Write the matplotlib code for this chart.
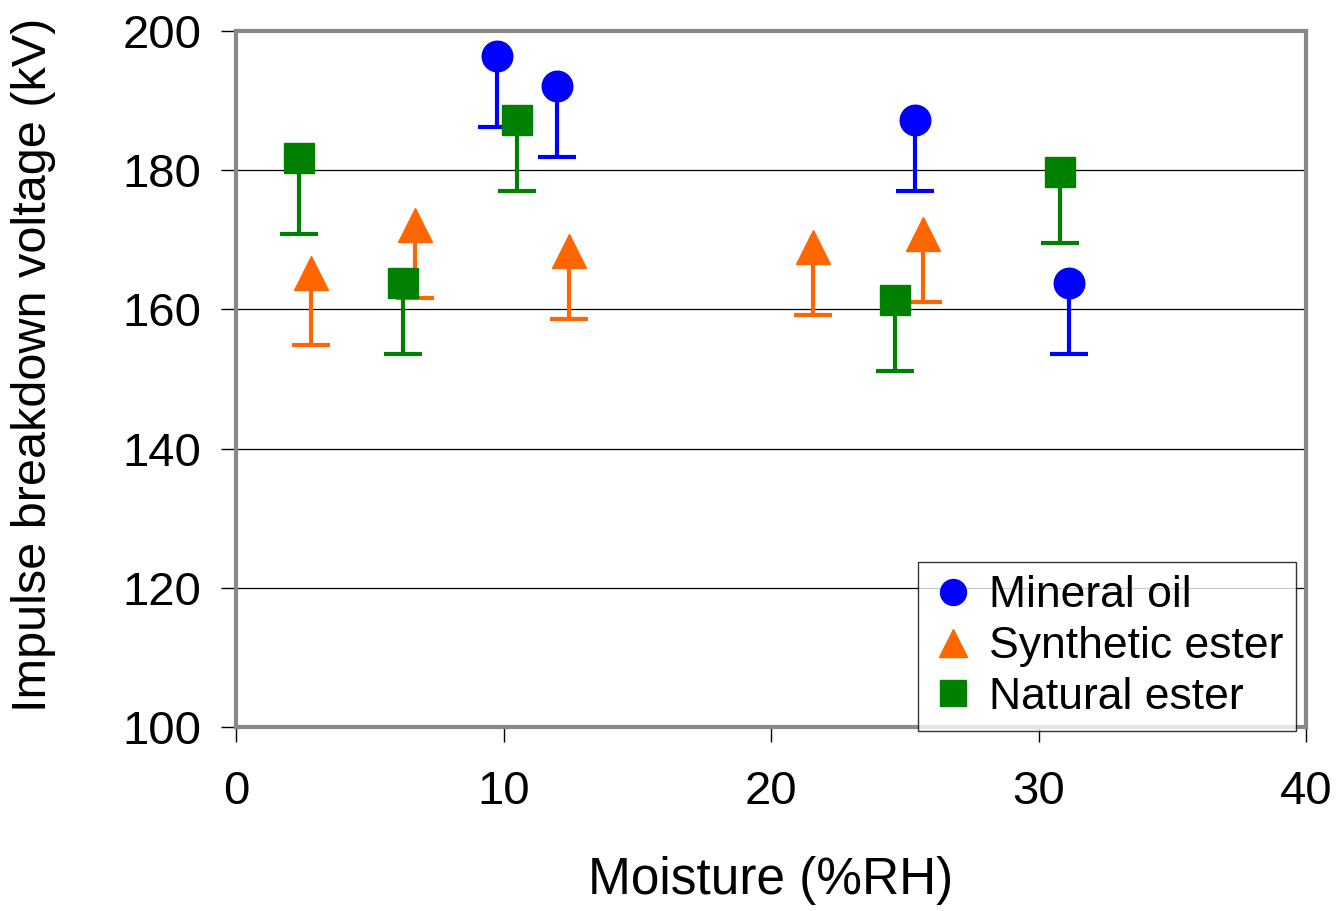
import matplotlib
matplotlib.use("Agg")
import matplotlib.pyplot as plt
import numpy as np

plt.rcParams['font.family'] = ['Liberation Sans', 'DejaVu Sans']

# Data (moisture %RH, breakdown kV, lower error kV)
mineral_x = [9.77, 12.0, 25.38, 31.15]
mineral_y = [196.4, 192.1, 187.2, 163.8]
mineral_err = [10.2, 10.2, 10.2, 10.2]

synth_x = [2.80, 6.70, 12.46, 21.58, 25.67]
synth_y = [165.3, 172.1, 168.4, 169.0, 170.9]
synth_err = [10.4, 10.5, 9.8, 9.8, 9.8]

natural_x = [2.34, 6.24, 10.52, 24.65, 30.79]
natural_y = [181.7, 163.8, 187.2, 161.35, 179.8]
natural_err = [10.8, 10.2, 10.2, 10.2, 10.2]

series = [
    ("Mineral oil", mineral_x, mineral_y, mineral_err, "#0000FF", "o"),
    ("Synthetic ester", synth_x, synth_y, synth_err, "#FF6600", "^"),
    ("Natural ester", natural_x, natural_y, natural_err, "#008000", "s"),
]

xticks = [0, 10, 20, 30, 40]
yticks = [100, 120, 140, 160, 180, 200]

fig = plt.figure(figsize=(13.42, 9.11), dpi=100)
ax = fig.add_axes([236/1342, 1-727/911, (1306-236)/1342, (727-31)/911])

ax.set_xlim(0, 40)
ax.set_ylim(100, 200)

for yv in yticks[1:-1]:
    ax.axhline(yv, color='black', lw=0.9, zorder=1)

handles = []
for name, xs, ys, errs, col, mk in series:
    xs = np.asarray(xs); ys = np.asarray(ys); errs = np.asarray(errs)
    ax.vlines(xs, ys - errs, ys, colors=col, lw=3.0, zorder=2)
    ax.plot(xs, ys - errs, linestyle='none', marker='_', markersize=27,
            markeredgewidth=3.0, color=col, zorder=2)
    ms = 22 if mk != '^' else 24
    h, = ax.plot(xs, ys, linestyle='none', marker=mk, markersize=ms,
                 color=col, markeredgecolor=col, label=name, zorder=3)
    handles.append(h)

for sp in ax.spines.values():
    sp.set_color('#888888')
    sp.set_linewidth(3)

ax.set_xticks(xticks)
ax.set_yticks(yticks)
ax.tick_params(axis='both', direction='out', length=11, width=1, color='black',
               labelsize=34)
ax.tick_params(axis='y', pad=14)
ax.tick_params(axis='x', pad=20)

ax.set_xlabel("Moisture (%RH)", fontsize=37, labelpad=30)
ax.set_ylabel("Impulse breakdown voltage (kV)", fontsize=35)
ax.yaxis.set_label_coords(-0.168, 0.52)

leg = ax.legend(handles=handles, loc='lower right', bbox_to_anchor=(0.991, -0.006),
                borderaxespad=0, fontsize=32, frameon=True, fancybox=False,
                edgecolor='black', handlelength=1.0, handletextpad=0.3,
                borderpad=0.3, labelspacing=0.22, markerscale=0.85)
leg.get_frame().set_linewidth(1.0)

fig.savefig("out.png", dpi=100)
